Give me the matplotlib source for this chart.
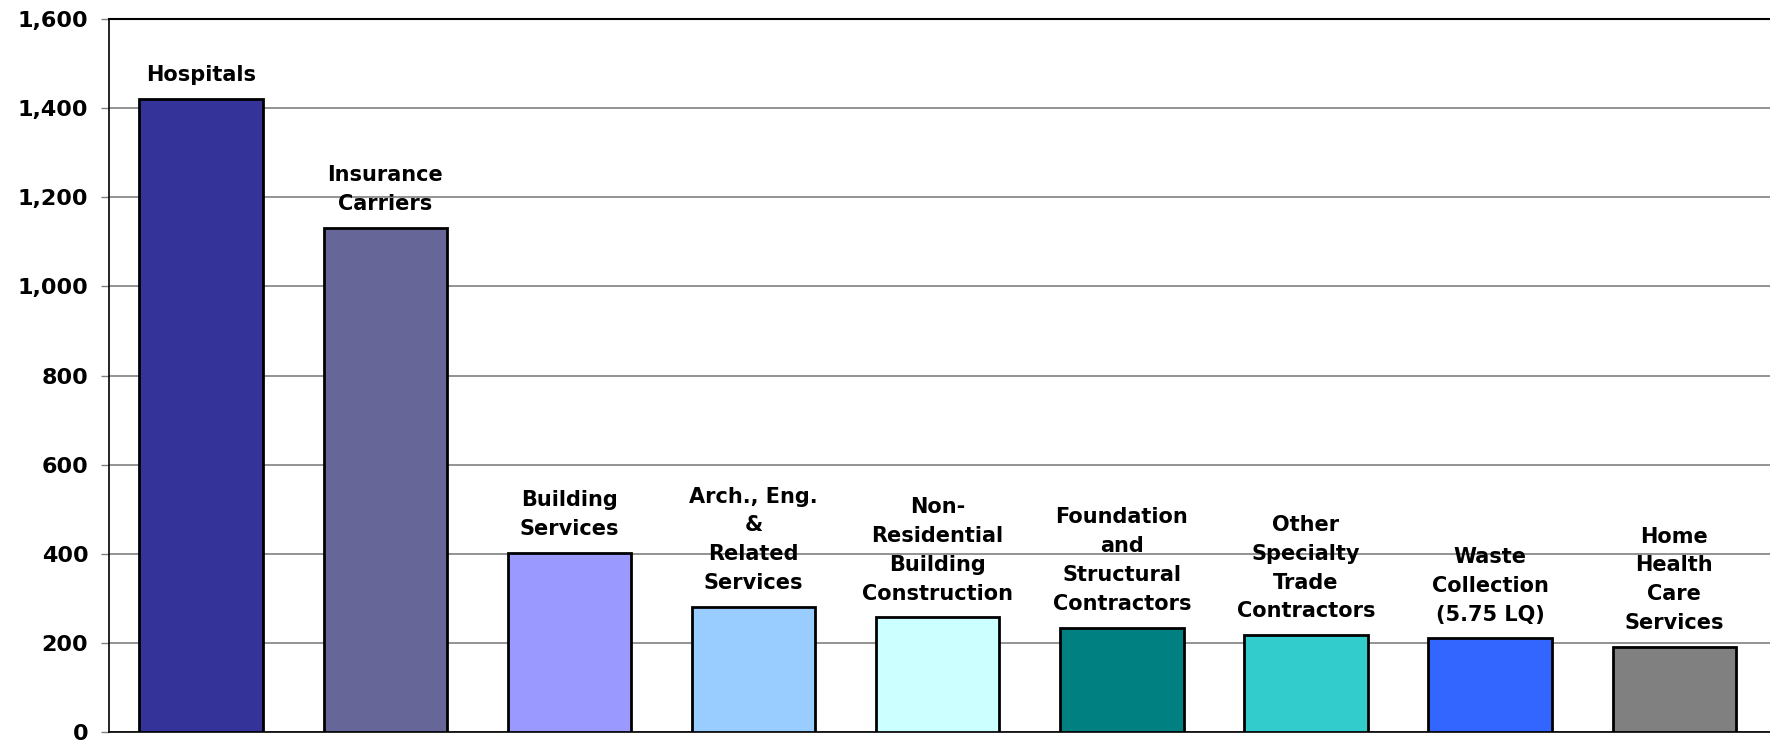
import matplotlib.pyplot as plt
from matplotlib.ticker import FuncFormatter

industries = ["Hospitals", "Insurance\nCarriers", "Building\nServices",
              "Arch., Eng.\n&\nRelated\nServices", "Non-\nResidential\nBuilding\nConstruction",
              "Foundation\nand\nStructural\nContractors", "Other\nSpecialty\nTrade\nContractors",
              "Waste\nCollection\n(5.75 LQ)", "Home\nHealth\nCare\nServices"]
employment = [1420, 1131, 402, 281, 257, 234, 217, 210, 191]
colors = ["#333399", "#666699", "#9999FF", "#99CCFF", "#CCFFFF",
          "#008080", "#33CCCC", "#3366FF", "#808080"]

fig = plt.figure(figsize=(17.7, 7.41), dpi=100)
ax = fig.add_axes([0.0616, 0.0121, 0.9384, 0.9623])

x = range(len(employment))
ax.bar(x, employment, width=0.67, color=colors, edgecolor="black", linewidth=2, zorder=3)

for i, (lab, v) in enumerate(zip(industries, employment)):
    ax.annotate(lab, (i, v), xytext=(0, 10), textcoords="offset points",
                ha="center", va="bottom", fontsize=15, fontweight="bold",
                linespacing=1.55, zorder=4)

ax.set_xlim(-0.5, len(employment) - 0.48)
ax.set_ylim(0, 1600)
ax.set_yticks(range(0, 1601, 200))
ax.yaxis.set_major_formatter(FuncFormatter(lambda v, p: f"{int(v):,}"))
ax.grid(axis="y", color="#808080", linewidth=1.2, zorder=0)
ax.set_xticks([])
ax.tick_params(axis="y", length=6, width=1, pad=9, labelsize=16, color="#808080")
for t in ax.get_yticklabels():
    t.set_fontweight("bold")

ax.spines["right"].set_visible(False)
ax.spines["top"].set_visible(False)
ax.spines["left"].set_linewidth(1.2)
ax.spines["bottom"].set_linewidth(1.2)
ax.axhline(1600, color="black", linewidth=1.5, zorder=5, clip_on=False)

plt.savefig("out.png", dpi=100)
